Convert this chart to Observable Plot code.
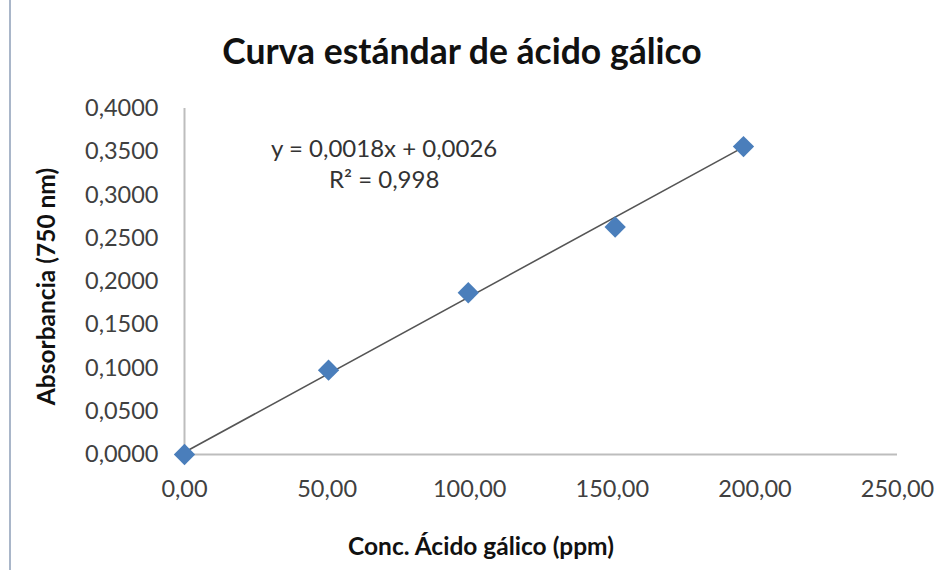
<!DOCTYPE html>
<html>
<head>
<meta charset="utf-8">
<script src="https://cdn.jsdelivr.net/npm/d3@7"></script>
<script src="https://cdn.jsdelivr.net/npm/@observablehq/plot@0.6"></script>
<style>
  html, body { margin: 0; padding: 0; background: #fff; }
  #wrap { position: relative; width: 952px; height: 570px; overflow: hidden; font-family: Lato, "Open Sans", sans-serif; }
  #edge { position: absolute; left: 9px; top: 0; width: 2px; height: 570px; background: #a9b6c9; }
  #title { height: 90px; line-height: 90px; padding-top: 6px; box-sizing: border-box; text-align: center; font-weight: 700; font-size: 35.5px; color: #111; }
  #title span { display: inline-block; transform: translateX(-14px); }
  svg { display: block; }
</style>
</head>
<body>
<div id="wrap">
  <div id="edge"></div>
  <div id="title"><span>Curva estándar de ácido gálico</span></div>
  <div id="plot"></div>
</div>
<script>
// Gallic acid standard curve: concentration (ppm) vs absorbance at 750 nm
const concentration = [0, 50.5, 99.5, 151, 196];
const absorbance = [0.0000, 0.0975, 0.1870, 0.2630, 0.3560];

// Fitted trendline and its reported statistics
const slope = 0.0018;
const intercept = 0.0026;
const rSquared = 0.998;

const xTicks = [0, 50, 100, 150, 200, 250];
const yTicks = [0, 0.05, 0.10, 0.15, 0.20, 0.25, 0.30, 0.35, 0.40];

const xLabel = "Conc. Ácido gálico (ppm)";
const yLabel = "Absorbancia (750 nm)";

const comma = (v, digits) => v.toFixed(digits).replace(".", ",");

const points = concentration.map((c, i) => ({x: c, y: absorbance[i]}));
const xRange = d3.extent(concentration);
const trend = xRange.map(x => ({x, y: slope * x + intercept}));

const eqText = [
  {x: 70, y: 0.353, text: `y = ${comma(slope, 4)}x + ${comma(intercept, 4)}`},
  {x: 70, y: 0.317, text: `R² = ${comma(rSquared, 3)}`}
];

const tickColor = "#404040";

const chart = Plot.plot({
  width: 952,
  height: 480,
  marginLeft: 184,
  marginRight: 55,
  marginTop: 18,
  marginBottom: 116,
  style: {fontFamily: "Lato, 'Open Sans', sans-serif", background: "#fff"},
  x: {domain: [0, 250]},
  y: {domain: [0, 0.4]},
  marks: [
    Plot.axisY({ticks: yTicks, tickSize: 0, tickPadding: 26, tickFormat: d => comma(d, 4),
      fontSize: 23.5, fill: tickColor, label: null}),
    Plot.axisX({ticks: xTicks, tickSize: 0, tickPadding: 26, tickFormat: d => comma(d, 2),
      fontSize: 23.5, fill: tickColor, label: null}),
    Plot.ruleY([0], {stroke: "#bdbdbd", strokeWidth: 2}),
    Plot.ruleX([0], {stroke: "#bdbdbd", strokeWidth: 2}),
    Plot.line(trend, {x: "x", y: "y", stroke: "#555", strokeWidth: 1.6}),
    Plot.dot(points, {x: "x", y: "y", symbol: "diamond2", r: 9.6, fill: "#4a7ebb", stroke: "none"}),
    Plot.text(eqText, {x: "x", y: "y", text: "text", fontSize: 24, fill: "#333"}),
    Plot.text([xLabel], {frameAnchor: "bottom", dx: -60, dy: 93, textAnchor: "middle", lineAnchor: "middle",
      text: d => d, fontSize: 24.5, fontWeight: "bold", fill: "#111"}),
    Plot.text([yLabel], {frameAnchor: "left", dx: -137, dy: 5, textAnchor: "middle", lineAnchor: "middle", rotate: -90,
      text: d => d, fontSize: 24.5, fontWeight: "bold", fill: "#111"})
  ]
});
document.getElementById("plot").appendChild(chart);
</script>
</body>
</html>
